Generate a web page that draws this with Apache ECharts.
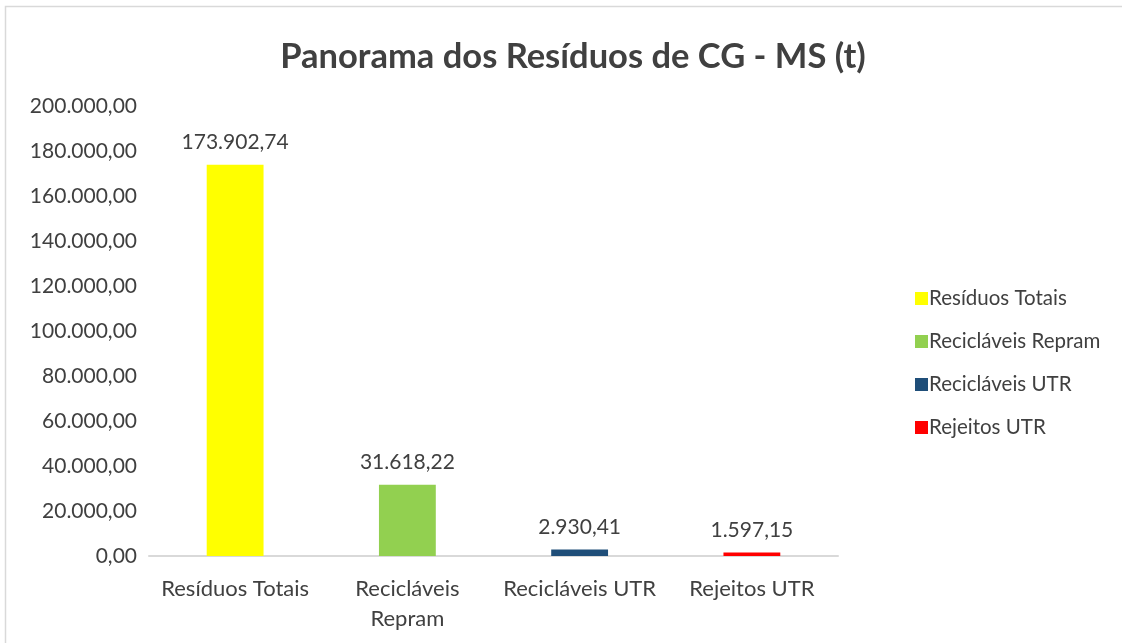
<!DOCTYPE html>
<html lang="pt-BR">
<head>
  <meta charset="UTF-8">
  <title>Panorama dos Resíduos de CG - MS (t)</title>
  <script src="https://cdn.jsdelivr.net/npm/echarts@6/dist/echarts.min.js"></script>
  <style>
    html, body { margin: 0; padding: 0; background: #fff; }
    #chart { width: 1122px; height: 643px; }
  </style>
</head>
<body>
<div id="chart"></div>
<script>
  const categories = ["Resíduos Totais", "Recicláveis\nRepram", "Recicláveis UTR", "Rejeitos UTR"];
  const seriesNames = ["Resíduos Totais", "Recicláveis Repram", "Recicláveis UTR", "Rejeitos UTR"];
  const values = [173902.74, 31618.22, 2930.41, 1597.15];
  const colors = ["#FFFF00", "#92D050", "#1F4E79", "#FF0000"];

  // formato brasileiro: 173.902,74
  function fmtBR(v) {
    const parts = Number(v).toFixed(2).split(".");
    parts[0] = parts[0].replace(/\B(?=(\d{3})+(?!\d))/g, ".");
    return parts.join(",");
  }

  const font = "Lato, 'Open Sans', sans-serif";

  const series = seriesNames.map((name, i) => ({
    name: name,
    type: "bar",
    stack: "total",
    barWidth: "33%",
    itemStyle: { color: colors[i] },
    data: values.map((v, j) => (j === i ? v : "-")),
    label: {
      show: true,
      position: "top",
      distance: 12,
      color: "#404040",
      fontFamily: font,
      fontSize: 21,
      formatter: p => fmtBR(p.value)
    }
  }));

  const chart = echarts.init(document.getElementById("chart"));
  chart.setOption({
    animation: false,
    textStyle: { fontFamily: font },
    title: {
      text: "Panorama dos Resíduos de CG - MS (t)",
      left: 568,
      textAlign: "center",
      top: 34,
      textStyle: { fontSize: 34.5, fontWeight: "bold", color: "#404040", fontFamily: font }
    },
    legend: {
      orient: "vertical",
      left: 910,
      top: 283,
      itemWidth: 13,
      itemHeight: 13,
      itemGap: 22,
      icon: "rect",
      textStyle: { fontSize: 20.5, color: "#404040", fontFamily: font, padding: [0, 0, 0, -4] },
      data: seriesNames
    },
    grid: { left: 149, right: 284, top: 106, bottom: 87, containLabel: false },
    xAxis: {
      type: "category",
      data: categories,
      axisLine: { lineStyle: { color: "#d9d9d9", width: 2 } },
      axisTick: { show: false },
      axisLabel: { interval: 0, color: "#404040", fontSize: 22, margin: 18, lineHeight: 30, fontFamily: font }
    },
    yAxis: {
      type: "value",
      min: 0,
      max: 200000,
      interval: 20000,
      splitLine: { show: false },
      axisLine: { show: false },
      axisTick: { show: false },
      axisLabel: { color: "#404040", fontSize: 21, margin: 12, fontFamily: font, formatter: v => fmtBR(v) }
    },
    graphic: [{
      type: "rect",
      shape: { x: 5.5, y: 6.5, width: 1200, height: 700 },
      style: { fill: "none", stroke: "#d9d9d9", lineWidth: 1.5 },
      silent: true
    }],
    series: series
  });
</script>
</body>
</html>
